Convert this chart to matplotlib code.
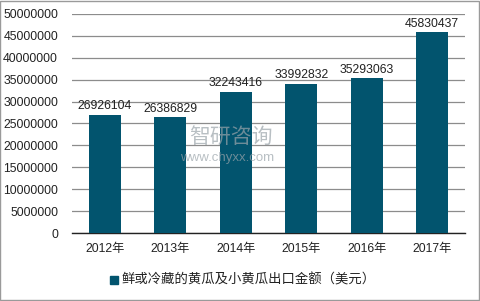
import matplotlib
matplotlib.use('Agg')
import matplotlib.pyplot as plt
from matplotlib.patches import Rectangle

years = ['2012年', '2013年', '2014年', '2015年', '2016年', '2017年']
values = [26926104, 26386829, 32243416, 33992832, 35293063, 45830437]
series_name = '鲜或冷藏的黄瓜及小黄瓜出口金额（美元）'

plt.rcParams['font.family'] = ['Liberation Sans', 'Noto Sans CJK SC']
color = '#02546e'

fig = plt.figure(figsize=(4.8, 3.01), dpi=100)
ax = fig.add_axes([72 / 480, 1 - 233 / 301, 393 / 480, 219 / 301])

x = range(len(years))
bars = ax.bar(x, values, width=0.49, color=color, zorder=3)
for xi, v in zip(x, values):
    ax.text(xi, v + 600000, str(v), ha='center', va='bottom', fontsize=8.8, color='#222222', zorder=4)

ax.set_xlim(-0.5, len(years) - 0.5)
ax.set_ylim(0, 50000000)
ax.set_yticks(range(0, 50000001, 5000000))
ax.set_yticklabels([str(t) for t in range(0, 50000001, 5000000)])
ax.set_xticks(list(x))
ax.set_xticklabels(years)
ax.tick_params(axis='both', length=0, labelsize=8.8, colors='#222222')
ax.tick_params(axis='y', pad=10)
ax.tick_params(axis='x', pad=7)
ax.grid(axis='y', color='#8c8c8c', linewidth=0.9, zorder=0)
for s in ['left', 'right', 'top']:
    ax.spines[s].set_visible(False)
ax.spines['bottom'].set_color('#222222')
ax.spines['bottom'].set_linewidth(1)

# watermark
fig.text(0.395, 0.545, '智研咨询', fontsize=15, color='#9aa4aa', alpha=0.7, ha='left', va='center')
fig.text(0.375, 0.475, 'www.chyxx.com', fontsize=9.5, color='#9aa4aa', alpha=0.7, ha='left', va='center')

# legend
fig.patches.append(Rectangle((110 / 480, 1 - 284 / 301), 8 / 480, 8 / 301,
                             transform=fig.transFigure, color=color))
fig.text(122 / 480, 1 - 280 / 301, series_name, fontsize=9.6, color='#222222', va='center', ha='left')

# outer border
fig.patches.append(Rectangle((0.001, 0.002), 0.997, 0.995, transform=fig.transFigure,
                             fill=False, edgecolor='#9a9a9a', linewidth=1))

fig.savefig('out.png', dpi=100)
